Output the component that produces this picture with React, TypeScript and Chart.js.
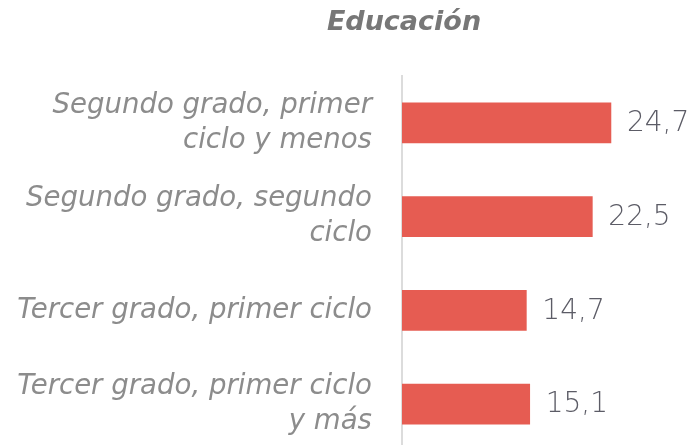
import React, { useEffect, useRef } from "react";
import { Chart, registerables } from "chart.js";

Chart.register(...registerables);

const title = "Educación";
const categories: (string | string[])[] = [
  ["Segundo grado, primer", "ciclo y menos"],
  ["Segundo grado, segundo", "ciclo"],
  "Tercer grado, primer ciclo",
  ["Tercer grado, primer ciclo", "y más"],
];
const values = [24.7, 22.5, 14.7, 15.1];

const FONT = "'DejaVu Sans', sans-serif";

export default function App() {
  const ref = useRef<HTMLCanvasElement>(null);
  useEffect(() => {
    if (!ref.current) return;
    const labelPlugin = {
      id: "barLabels",
      afterDatasetsDraw(chart: any) {
        const ctx = chart.ctx;
        const meta = chart.getDatasetMeta(0);
        ctx.save();
        ctx.font = `200 28px ${FONT}`;
        ctx.fillStyle = "#5c5c66";
        ctx.textAlign = "left";
        ctx.textBaseline = "middle";
        meta.data.forEach((el: any, i: number) => {
          ctx.fillText(values[i].toFixed(1).replace(".", ","), el.x + 16, el.y + 1);
        });
        ctx.restore();
      },
    };
    const titlePlugin = {
      id: "topTitle",
      afterDraw(chart: any) {
        const ctx = chart.ctx;
        ctx.save();
        ctx.font = `italic bold 27px ${FONT}`;
        ctx.fillStyle = "#777777";
        ctx.textAlign = "center";
        ctx.textBaseline = "middle";
        ctx.fillText(title, 404, 23);
        ctx.restore();
      },
    };
    const chart = new Chart(ref.current, {
      type: "bar",
      data: {
        labels: categories,
        datasets: [
          {
            data: values,
            backgroundColor: "#e65c52",
            borderWidth: 0,
            barThickness: 40,
          },
        ],
      },
      options: {
        indexAxis: "y",
        animation: false,
        responsive: true,
        maintainAspectRatio: false,
        layout: { padding: { top: 76, bottom: 4, left: 0, right: 0 } },
        plugins: {
          legend: { display: false },
          tooltip: { enabled: false },
          title: { display: false },
        },
        scales: {
          x: { display: false, min: 0, max: 34.4 },
          y: {
            grid: { display: false, drawTicks: false },
            border: { display: true, color: "#dcdcdc", width: 2 },
            ticks: {
              padding: 30,
              color: "#8c8c8c",
              font: { family: FONT, size: 27.6, style: "italic", weight: 200, lineHeight: 1.27 },
            },
            afterFit(scale: any) {
              scale.width = 402;
              scale.paddingTop = 0;
              scale.paddingBottom = 0;
            },
          },
        },
      },
      plugins: [labelPlugin, titlePlugin],
    });
    return () => chart.destroy();
  }, []);
  return (
    <div style={{ position: "fixed", left: 0, top: 0, width: 693, height: 445, overflow: "hidden", background: "#fff" }}>
      <div style={{ position: "relative", width: 693, height: 455 }}>
        <canvas ref={ref} />
      </div>
    </div>
  );
}
